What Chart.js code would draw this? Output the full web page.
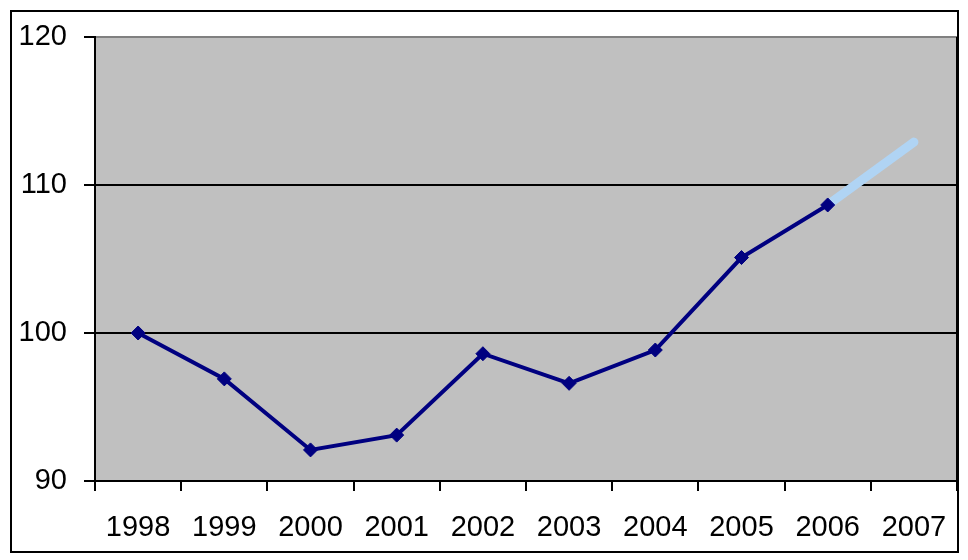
<!DOCTYPE html>
<html>
<head>
<meta charset="utf-8">
<script src="https://cdn.jsdelivr.net/npm/chart.js@4/dist/chart.umd.min.js"></script>
<style>
  html, body { margin: 0; padding: 0; background: #fff; }
  #wrap { width: 968px; height: 560px; }
</style>
</head>
<body>
<div id="wrap"><canvas id="grafico"></canvas></div>
<script>
// dados
const anos = ['1998', '1999', '2000', '2001', '2002', '2003', '2004', '2005', '2006', '2007'];
const indice = [100, 96.9, 92.1, 93.1, 98.6, 96.6, 98.85, 105.1, 108.65, null];
const projecao = [null, null, null, null, null, null, null, null, 108.65, 112.9];
const ticksY = [90, 100, 110, 120];

// fundo cinza da area do grafico + moldura externa
const fundo = {
    id: 'fundo',
    beforeDraw(chart) {
        const { ctx, chartArea: a } = chart;
        ctx.save();
        ctx.fillStyle = '#c0c0c0';
        ctx.fillRect(a.left, a.top, a.right - a.left, a.bottom - a.top);
        ctx.strokeStyle = '#808080';
        ctx.lineWidth = 2;
        ctx.beginPath();
        ctx.moveTo(a.left, a.top);
        ctx.lineTo(a.right, a.top);
        ctx.stroke();
        ctx.strokeStyle = '#000';
        ctx.beginPath();
        ctx.moveTo(a.right, a.top);
        ctx.lineTo(a.right, a.bottom);
        ctx.stroke();
        ctx.restore();
    },
    afterDraw(chart) {
        const ctx = chart.ctx;
        ctx.save();
        ctx.strokeStyle = '#000';
        ctx.lineWidth = 2;
        ctx.strokeRect(11, 11, 947, 541);
        ctx.restore();
    }
};

const fonte = { family: 'Arial, "Liberation Sans", sans-serif', size: 29 };

new Chart(document.getElementById('grafico'), {
    type: 'line',
    data: {
        labels: anos,
        datasets: [{
            data: indice,
            borderColor: '#000080',
            backgroundColor: '#000080',
            borderWidth: 4,
            pointStyle: 'rectRot',
            pointRadius: 7,
            pointBorderWidth: 1,
            tension: 0
        }, {
            data: projecao,
            borderColor: '#b0d4f4',
            borderWidth: 9,
            borderCapStyle: 'round',
            pointRadius: 0,
            tension: 0
        }]
    },
    options: {
        responsive: true,
        maintainAspectRatio: false,
        animation: false,
        layout: { padding: { top: 37, right: 11, left: 0, bottom: 0 } },
        plugins: { legend: { display: false }, tooltip: { enabled: false } },
        scales: {
            x: {
                offset: true,
                grid: {
                    offset: true,
                    drawOnChartArea: false,
                    tickColor: '#000',
                    tickLength: 10,
                    lineWidth: 2
                },
                border: { color: '#000', width: 2 },
                ticks: { color: '#000', font: fonte, padding: 20, maxRotation: 0, autoSkip: false },
                afterFit(s) { s.height = 79; }
            },
            y: {
                min: 90,
                max: 120,
                afterBuildTicks(s) { s.ticks = ticksY.map(v => ({ value: v })); },
                grid: {
                    color: c => (c.tick && (c.tick.value === 100 || c.tick.value === 110)) ? '#000' : 'rgba(0,0,0,0)',
                    tickColor: '#000',
                    tickLength: 11,
                    lineWidth: 2
                },
                border: { color: '#000', width: 2 },
                ticks: { color: '#000', font: fonte, padding: 17 },
                afterFit(s) { s.width = 95; }
            }
        }
    },
    plugins: [fundo]
});
</script>
</body>
</html>
